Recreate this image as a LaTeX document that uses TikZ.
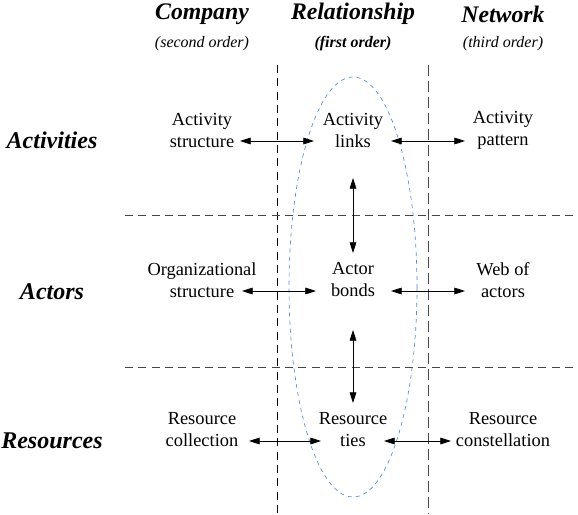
\documentclass[tikz,border=0pt]{standalone}
\usepackage{fontspec}
\setmainfont{Liberation Serif}
\usetikzlibrary{positioning,calc,arrows.meta}

\definecolor{ovalblue}{RGB}{85,140,215}
\definecolor{gridgray}{RGB}{70,70,70}

\begin{document}
\begin{tikzpicture}[x=0.75pt,y=-0.75pt,
    cell/.style={align=center,font=\fontsize{13.8}{16.5}\selectfont,inner sep=1pt},
    colhead/.style={font=\fontsize{17.8}{20}\selectfont\bfseries\itshape},
    colsub/.style={font=\fontsize{12}{14}\selectfont\itshape},
    rowhead/.style={font=\fontsize{18}{20}\selectfont\bfseries\itshape},
    biarrow/.style={{Triangle[length=8pt,width=5pt]}-{Triangle[length=8pt,width=5pt]},line width=0.6pt},
    gridline/.style={dash pattern=on 6pt off 4pt,line width=0.6pt}]
    \useasboundingbox (0,0) rectangle (578,514);

    % column heads
    \node[colhead] (company) at (202,14) {Company};
    \node[colhead] (relation) at (353,14) {Relationship};
    \node[colhead] (network) at (503,14) {Network};
    \node[colsub] (csub) at (202,44) {(second order)};
    \node[colsub,font=\fontsize{12}{14}\selectfont\bfseries\itshape] (rsub) at (353,44) {(first order)};
    \node[colsub] (nsub) at (503,44) {(third order)};

    % row heads
    \node[rowhead] (activities) at (52,140) {Activities};
    \node[rowhead] (actors) at (52,292) {Actors};
    \node[rowhead] (resources) at (52,441) {Resources};

    % grid
    \draw[gridline,black] (277,65) -- (277,514);
    \draw[gridline,gridgray,dash pattern=on 8pt off 4pt] (428,65) -- (428,514);
    \draw[gridline,gridgray] (125,215) -- (578,215);
    \draw[gridline,gridgray] (125,367) -- (578,367);

    % first order oval
    \draw[ovalblue,dashed,line width=0.5pt] (353,287) ellipse [x radius=64, y radius=210];

    % cells
    \node[cell] (astruct) at (202,130) {Activity\\structure};
    \node[cell] (alinks) at (353,130) {Activity\\links};
    \node[cell] (apattern) at (503,130) {Activity\\pattern};
    \node[cell] (ostruct) at (202,280) {Organizational\\structure};
    \node[cell] (abonds) at (353,280) {Actor\\bonds};
    \node[cell] (webact) at (503,280) {Web of\\actors};
    \node[cell] (rcoll) at (202,430) {Resource\\collection};
    \node[cell] (rties) at (353,430) {Resource\\ties};
    \node[cell] (rconst) at (503,430) {Resource\\constellation};

    % links
    \draw[biarrow] ($(astruct.center)+(38,11)$) -- ($(alinks.center)+(-39,11)$);
    \draw[biarrow] ($(alinks.center)+(38,11)$) -- ($(apattern.center)+(-38,11)$);
    \draw[biarrow] ($(ostruct.center)+(40,11)$) -- ($(abonds.center)+(-37,11)$);
    \draw[biarrow] ($(abonds.center)+(38,11)$) -- ($(webact.center)+(-38,11)$);
    \draw[biarrow] ($(rcoll.center)+(47,11)$) -- ($(rties.center)+(-32,11)$);
    \draw[biarrow] ($(rties.center)+(31,11)$) -- ($(rconst.center)+(-52,11)$);
    \draw[biarrow] ($(alinks.center)+(0,48)$) -- ($(abonds.center)+(0,-27)$);
    \draw[biarrow] ($(abonds.center)+(0,50)$) -- ($(rties.center)+(0,-27)$);
\end{tikzpicture}
\end{document}
